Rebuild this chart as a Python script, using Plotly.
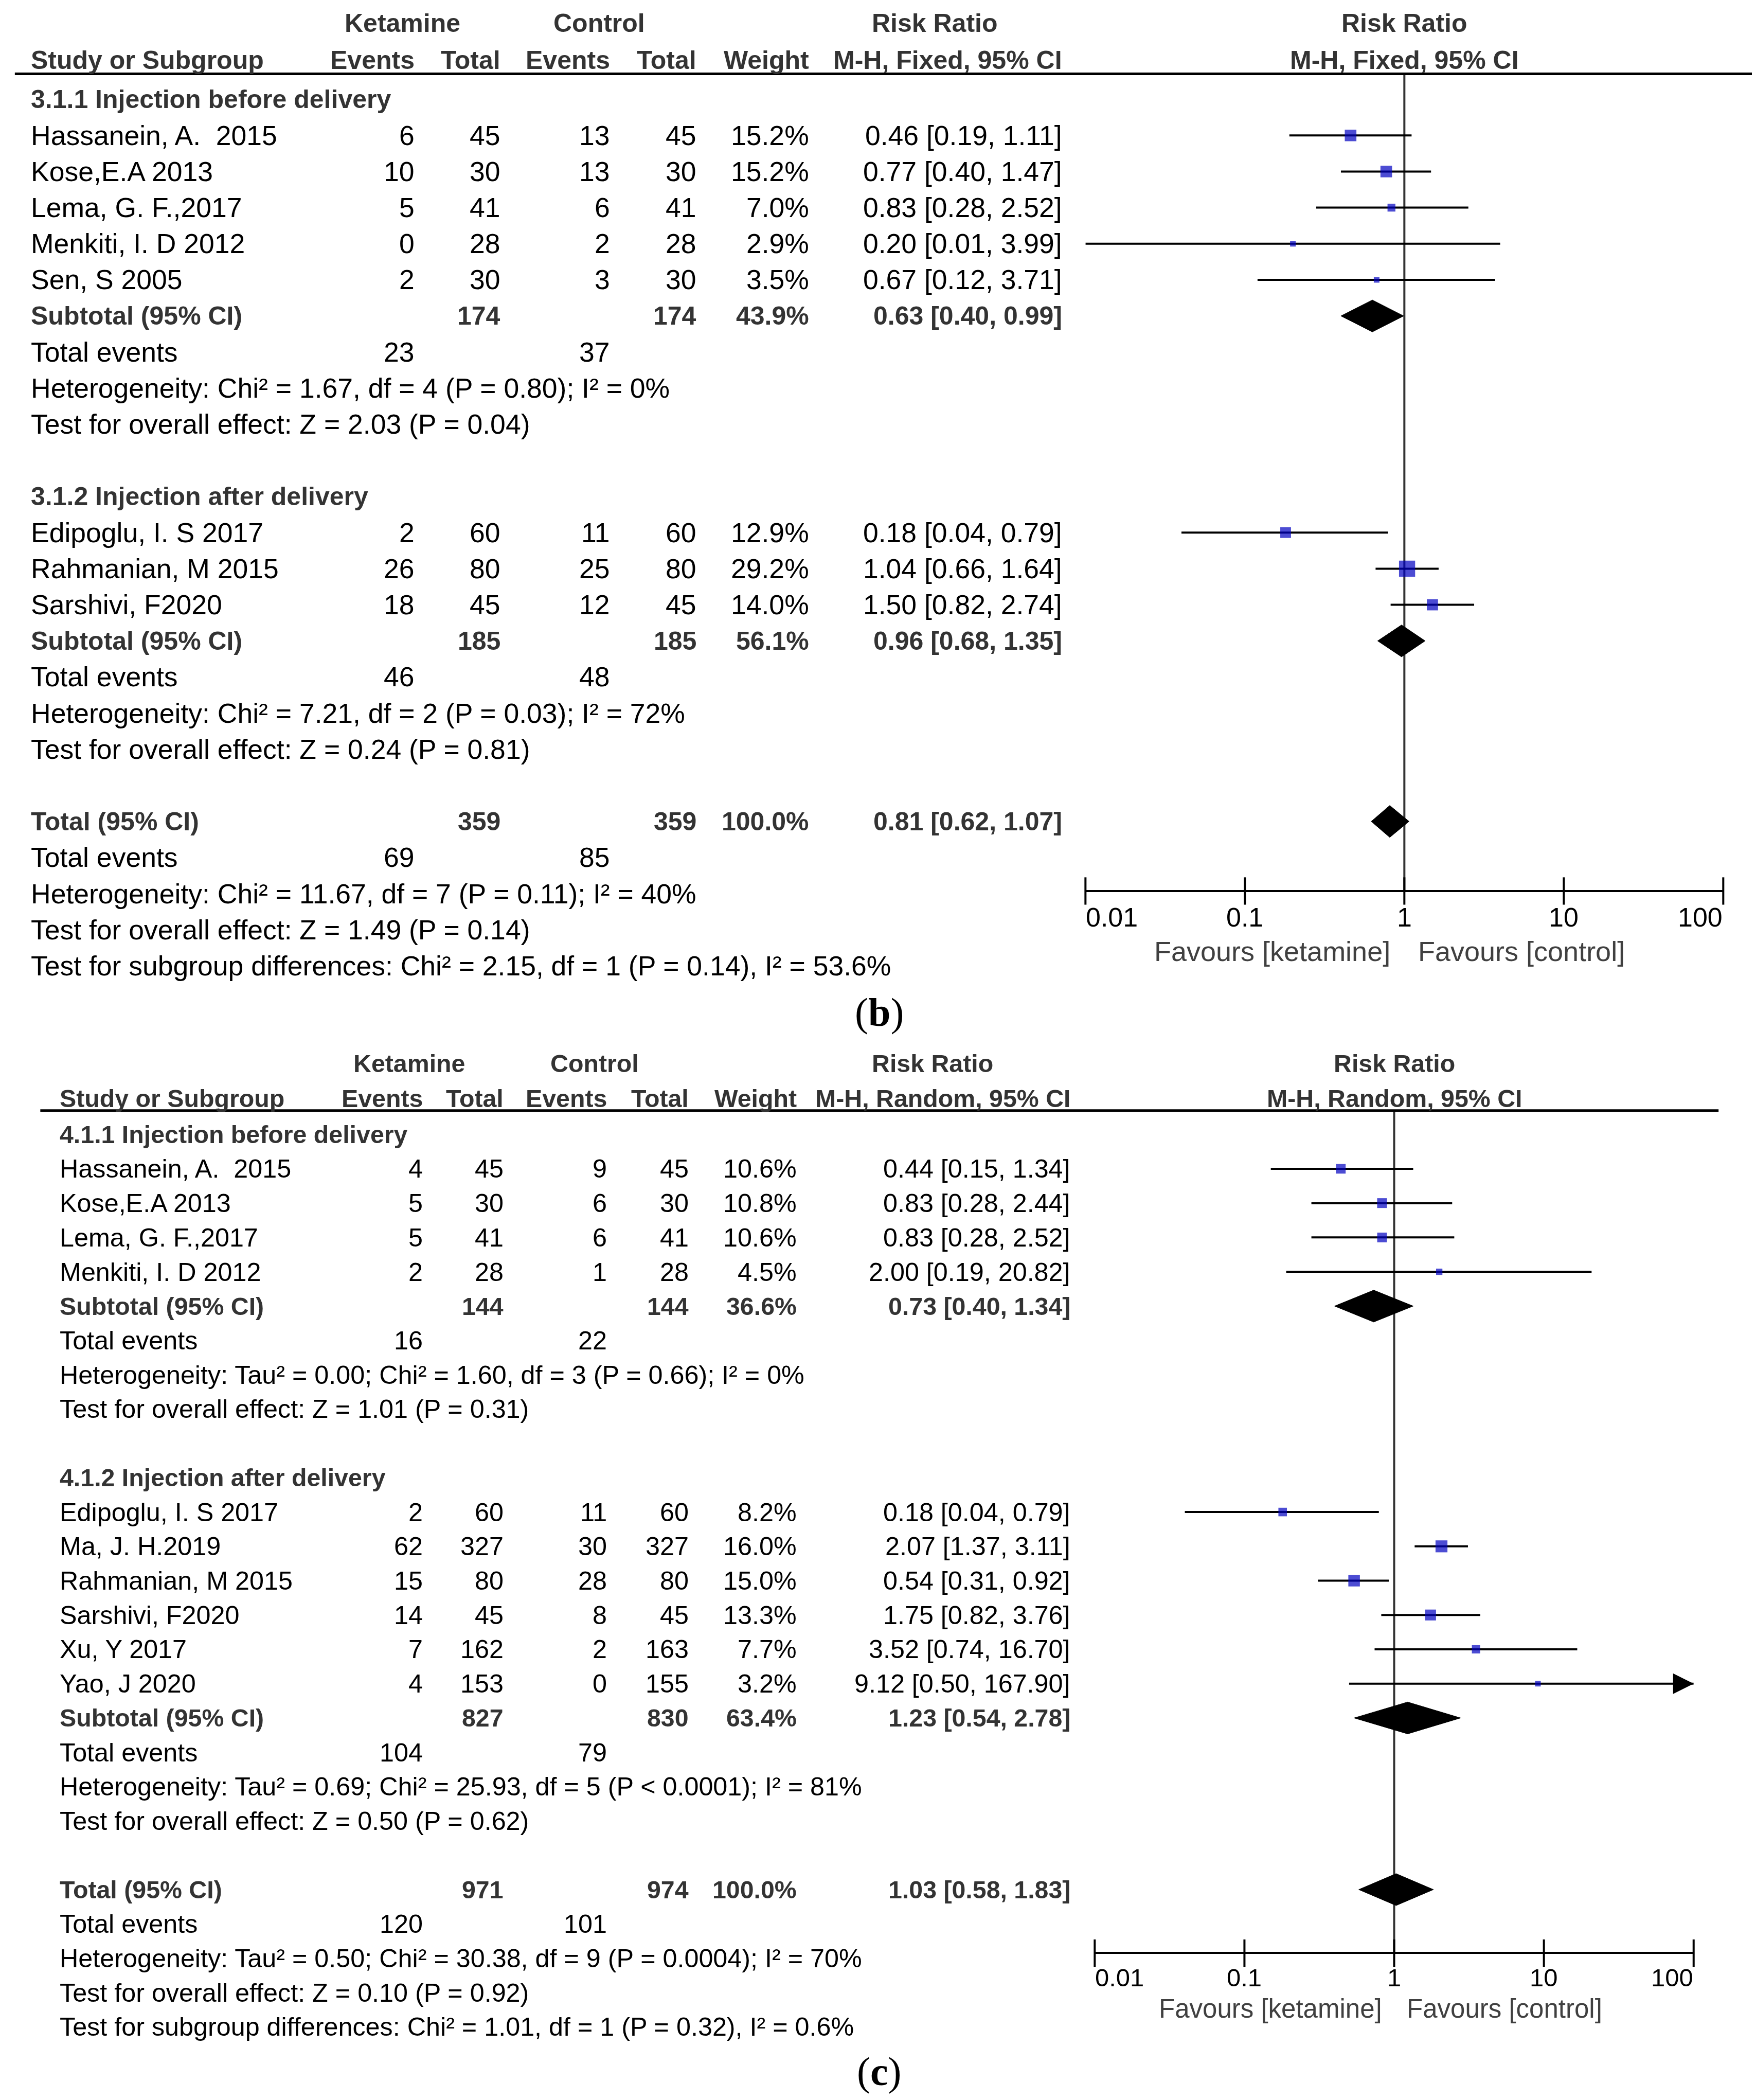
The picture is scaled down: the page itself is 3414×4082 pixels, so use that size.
import math
import plotly.graph_objects as go

# ======================= DATA: panel (b) =======================
B_MODEL = "M-H, Fixed, 95% CI"
B1_HEAD = "3.1.1 Injection before delivery"
B1_STUDY = ["Hassanein, A.  2015", "Kose,E.A 2013", "Lema, G. F.,2017", "Menkiti, I. D 2012", "Sen, S 2005"]
B1_EK = [6, 10, 5, 0, 2]
B1_TK = [45, 30, 41, 28, 30]
B1_EC = [13, 13, 6, 2, 3]
B1_TC = [45, 30, 41, 28, 30]
B1_W = [15.2, 15.2, 7.0, 2.9, 3.5]
B1_RR = [0.46, 0.77, 0.83, 0.20, 0.67]
B1_LO = [0.19, 0.40, 0.28, 0.01, 0.12]
B1_HI = [1.11, 1.47, 2.52, 3.99, 3.71]
B1_SUB_N = [174, 174]
B1_SUB_W = 43.9
B1_SUB_CI = [0.63, 0.40, 0.99]
B1_EVENTS = [23, 37]
B1_STATS = ["Heterogeneity: Chi² = 1.67, df = 4 (P = 0.80); I² = 0%",
            "Test for overall effect: Z = 2.03 (P = 0.04)"]

B2_HEAD = "3.1.2 Injection after delivery"
B2_STUDY = ["Edipoglu, I. S 2017", "Rahmanian, M 2015", "Sarshivi, F2020"]
B2_EK = [2, 26, 18]
B2_TK = [60, 80, 45]
B2_EC = [11, 25, 12]
B2_TC = [60, 80, 45]
B2_W = [12.9, 29.2, 14.0]
B2_RR = [0.18, 1.04, 1.50]
B2_LO = [0.04, 0.66, 0.82]
B2_HI = [0.79, 1.64, 2.74]
B2_SUB_N = [185, 185]
B2_SUB_W = 56.1
B2_SUB_CI = [0.96, 0.68, 1.35]
B2_EVENTS = [46, 48]
B2_STATS = ["Heterogeneity: Chi² = 7.21, df = 2 (P = 0.03); I² = 72%",
            "Test for overall effect: Z = 0.24 (P = 0.81)"]

BT_N = [359, 359]
BT_W = 100.0
BT_CI = [0.81, 0.62, 1.07]
BT_EVENTS = [69, 85]
BT_STATS = ["Heterogeneity: Chi² = 11.67, df = 7 (P = 0.11); I² = 40%",
            "Test for overall effect: Z = 1.49 (P = 0.14)",
            "Test for subgroup differences: Chi² = 2.15, df = 1 (P = 0.14), I² = 53.6%"]

# ======================= DATA: panel (c) =======================
C_MODEL = "M-H, Random, 95% CI"
C1_HEAD = "4.1.1 Injection before delivery"
C1_STUDY = ["Hassanein, A.  2015", "Kose,E.A 2013", "Lema, G. F.,2017", "Menkiti, I. D 2012"]
C1_EK = [4, 5, 5, 2]
C1_TK = [45, 30, 41, 28]
C1_EC = [9, 6, 6, 1]
C1_TC = [45, 30, 41, 28]
C1_W = [10.6, 10.8, 10.6, 4.5]
C1_RR = [0.44, 0.83, 0.83, 2.00]
C1_LO = [0.15, 0.28, 0.28, 0.19]
C1_HI = [1.34, 2.44, 2.52, 20.82]
C1_SUB_N = [144, 144]
C1_SUB_W = 36.6
C1_SUB_CI = [0.73, 0.40, 1.34]
C1_EVENTS = [16, 22]
C1_STATS = ["Heterogeneity: Tau² = 0.00; Chi² = 1.60, df = 3 (P = 0.66); I² = 0%",
            "Test for overall effect: Z = 1.01 (P = 0.31)"]

C2_HEAD = "4.1.2 Injection after delivery"
C2_STUDY = ["Edipoglu, I. S 2017", "Ma, J. H.2019", "Rahmanian, M 2015", "Sarshivi, F2020", "Xu, Y 2017", "Yao, J 2020"]
C2_EK = [2, 62, 15, 14, 7, 4]
C2_TK = [60, 327, 80, 45, 162, 153]
C2_EC = [11, 30, 28, 8, 2, 0]
C2_TC = [60, 327, 80, 45, 163, 155]
C2_W = [8.2, 16.0, 15.0, 13.3, 7.7, 3.2]
C2_RR = [0.18, 2.07, 0.54, 1.75, 3.52, 9.12]
C2_LO = [0.04, 1.37, 0.31, 0.82, 0.74, 0.50]
C2_HI = [0.79, 3.11, 0.92, 3.76, 16.70, 167.90]
C2_SUB_N = [827, 830]
C2_SUB_W = 63.4
C2_SUB_CI = [1.23, 0.54, 2.78]
C2_EVENTS = [104, 79]
C2_STATS = ["Heterogeneity: Tau² = 0.69; Chi² = 25.93, df = 5 (P < 0.0001); I² = 81%",
            "Test for overall effect: Z = 0.50 (P = 0.62)"]

CT_N = [971, 974]
CT_W = 100.0
CT_CI = [1.03, 0.58, 1.83]
CT_EVENTS = [120, 101]
CT_STATS = ["Heterogeneity: Tau² = 0.50; Chi² = 30.38, df = 9 (P = 0.0004); I² = 70%",
            "Test for overall effect: Z = 0.10 (P = 0.92)",
            "Test for subgroup differences: Chi² = 1.01, df = 1 (P = 0.32), I² = 0.6%"]

TICK_VALS = [0.01, 0.1, 1, 10, 100]
TICK_TEXT = ["0.01", "0.1", "1", "10", "100"]
FAV_LEFT = "Favours [ketamine]"
FAV_RIGHT = "Favours [control]"
COL_HEAD1 = ["Ketamine", "Control", "Risk Ratio"]
COL_HEAD2 = ["Study or Subgroup", "Events", "Total", "Events", "Total", "Weight"]
TOTAL_LABELS = ["Subtotal (95% CI)", "Total events", "Total (95% CI)"]


def group(head, study, ek, tk, ec, tc, w, rr, lo, hi, sub_n, sub_w, sub_ci, events, stats):
    return dict(head=head, study=study, ek=ek, tk=tk, ec=ec, tc=tc, w=w, rr=rr, lo=lo, hi=hi,
                sub_n=sub_n, sub_w=sub_w, sub_ci=sub_ci, events=events, stats=stats)


PANEL_B = dict(model=B_MODEL,
               groups=[group(B1_HEAD, B1_STUDY, B1_EK, B1_TK, B1_EC, B1_TC, B1_W, B1_RR, B1_LO, B1_HI,
                             B1_SUB_N, B1_SUB_W, B1_SUB_CI, B1_EVENTS, B1_STATS),
                       group(B2_HEAD, B2_STUDY, B2_EK, B2_TK, B2_EC, B2_TC, B2_W, B2_RR, B2_LO, B2_HI,
                             B2_SUB_N, B2_SUB_W, B2_SUB_CI, B2_EVENTS, B2_STATS)],
               total=dict(n=BT_N, w=BT_W, ci=BT_CI, events=BT_EVENTS, stats=BT_STATS))
PANEL_C = dict(model=C_MODEL,
               groups=[group(C1_HEAD, C1_STUDY, C1_EK, C1_TK, C1_EC, C1_TC, C1_W, C1_RR, C1_LO, C1_HI,
                             C1_SUB_N, C1_SUB_W, C1_SUB_CI, C1_EVENTS, C1_STATS),
                       group(C2_HEAD, C2_STUDY, C2_EK, C2_TK, C2_EC, C2_TC, C2_W, C2_RR, C2_LO, C2_HI,
                             C2_SUB_N, C2_SUB_W, C2_SUB_CI, C2_EVENTS, C2_STATS)],
               total=dict(n=CT_N, w=CT_W, ci=CT_CI, events=CT_EVENTS, stats=CT_STATS))

# ======================= LAYOUT (reference-pixel geometry) =======================
W, H = 3414, 4082
S = W / 1310.0
FONT = "Liberation Sans, Arial, sans-serif"
BLUE = "#0000C0"
GRAY = "#333333"


def px(xd):
    return xd / 1310.0


def py(yd):
    return 1 - yd * S / H


GEO_B = dict(row0=71.0, step=26.93, top=52.0, axis=661.5, bottom=734, xl=806.7, xr=1282.5,
             line=(8, 1305), head1=14.3, head2=41.8, study_x=19.5,
             cols=[306.5, 370.5, 452.5, 517, 601, 789.5],
             keta=297, ctrl=444, rr=694.5, ticklab=681, fav=706.6, label=752, labeltext="(<b>b</b>)",
             fs=53.5, fsh=50, fst=52, fsf=54, favshift=26)
GEO_C = dict(row0=843.1, step=25.6, top=825.3, axis=1453.7, bottom=1524, xl=813.6, xr=1260.4,
             line=(27, 1279), head1=790.2, head2=816.0, study_x=41.2,
             cols=[312.6, 373, 450, 511, 591.7, 796],
             keta=302, ctrl=440.6, rr=692.5, ticklab=1472, fav=1495.3, label=1541.8, labeltext="(<b>c</b>)",
             fs=50.3, fsh=48.3, fst=49, fsf=51, favshift=23)

fig = go.Figure()
annots = []
shapes = []


def txt(s, x, y, yref, anchor="left", bold=False, color="#000000", size=52, xref="paper",
        family=FONT, xshift=0):
    if bold:
        s = "<b>" + s + "</b>"
    annots.append(dict(text=s, x=x, y=y, xref=xref, yref=yref, xanchor=anchor, yanchor="middle",
                       showarrow=False, xshift=xshift, borderpad=0,
                       font=dict(size=size, color=color, family=family)))


def ci_text(rr, lo, hi):
    return f"{rr:.2f} [{lo:.2f}, {hi:.2f}]"


def build(panel, geo, xa, ya):
    xname = "xaxis" if xa == "x" else "xaxis" + xa[1:]
    yname = "yaxis" if ya == "y" else "yaxis" + ya[1:]
    step_px = geo["step"] * S
    r_top = (geo["top"] - geo["row0"]) / geo["step"]
    r_bot = (geo["bottom"] - geo["row0"]) / geo["step"]
    r_axis = (geo["axis"] - geo["row0"]) / geo["step"]
    c = geo["cols"]
    fs, fsh = geo["fs"], geo["fsh"]
    k = 5.8

    # --- column headers ---
    txt(COL_HEAD1[0], px(geo["keta"]), py(geo["head1"]), "paper", "center", True, GRAY, fsh)
    txt(COL_HEAD1[1], px(geo["ctrl"]), py(geo["head1"]), "paper", "center", True, GRAY, fsh)
    txt(COL_HEAD1[2], px(geo["rr"]), py(geo["head1"]), "paper", "center", True, GRAY, fsh)
    txt(COL_HEAD2[0], px(geo["study_x"]), py(geo["head2"]), "paper", "left", True, GRAY, fsh)
    for i, h in enumerate(COL_HEAD2[1:]):
        txt(h, px(c[i]), py(geo["head2"]), "paper", "right", True, GRAY, fsh)
    txt(panel["model"], px(c[5]), py(geo["head2"]), "paper", "right", True, GRAY, fsh)
    txt(COL_HEAD1[2], 0, py(geo["head1"]), "paper", "center", True, GRAY, fsh, xref=xa)
    txt(panel["model"], 0, py(geo["head2"]), "paper", "center", True, GRAY, fsh, xref=xa)
    shapes.append(dict(type="line", xref="paper", yref="paper", x0=px(geo["line"][0]), x1=px(geo["line"][1]),
                       y0=py(geo["top"]), y1=py(geo["top"]), line=dict(color="black", width=5)))

    sx, sy, ss = [], [], []
    lx, ly = [], []
    arrows_x, arrows_y = [], []
    diamonds = []
    r = 0
    sx0 = px(geo["study_x"])
    for g in panel["groups"]:
        txt(g["head"], sx0, r, ya, "left", True, GRAY, fsh)
        r += 1
        for i, name in enumerate(g["study"]):
            txt(name, sx0, r, ya, size=fs)
            txt(str(g["ek"][i]), px(c[0]), r, ya, "right", size=fs)
            txt(str(g["tk"][i]), px(c[1]), r, ya, "right", size=fs)
            txt(str(g["ec"][i]), px(c[2]), r, ya, "right", size=fs)
            txt(str(g["tc"][i]), px(c[3]), r, ya, "right", size=fs)
            txt(f"{g['w'][i]:.1f}%", px(c[4]), r, ya, "right", size=fs)
            txt(ci_text(g["rr"][i], g["lo"][i], g["hi"][i]), px(c[5]), r, ya, "right", size=fs)
            lo = max(g["lo"][i], TICK_VALS[0])
            hi = min(g["hi"][i], TICK_VALS[-1])
            lx += [lo, hi, None]
            ly += [r, r, None]
            if g["hi"][i] > TICK_VALS[-1]:
                arrows_x.append(TICK_VALS[-1])
                arrows_y.append(r)
            sx.append(g["rr"][i])
            sy.append(r)
            ss.append(max(11.0, k * math.sqrt(g["w"][i])))
            r += 1
        txt(TOTAL_LABELS[0], sx0, r, ya, "left", True, GRAY, fsh)
        txt(str(g["sub_n"][0]), px(c[1]), r, ya, "right", True, GRAY, fsh)
        txt(str(g["sub_n"][1]), px(c[3]), r, ya, "right", True, GRAY, fsh)
        txt(f"{g['sub_w']:.1f}%", px(c[4]), r, ya, "right", True, GRAY, fsh)
        txt(ci_text(*g["sub_ci"]), px(c[5]), r, ya, "right", True, GRAY, fsh)
        diamonds.append((g["sub_ci"], r))
        r += 1
        txt(TOTAL_LABELS[1], sx0, r, ya, size=fs)
        txt(str(g["events"][0]), px(c[0]), r, ya, "right", size=fs)
        txt(str(g["events"][1]), px(c[2]), r, ya, "right", size=fs)
        r += 1
        for s in g["stats"]:
            txt(s, sx0, r, ya, size=fs)
            r += 1
        r += 1
    t = panel["total"]
    txt(TOTAL_LABELS[2], sx0, r, ya, "left", True, GRAY, fsh)
    txt(str(t["n"][0]), px(c[1]), r, ya, "right", True, GRAY, fsh)
    txt(str(t["n"][1]), px(c[3]), r, ya, "right", True, GRAY, fsh)
    txt(f"{t['w']:.1f}%", px(c[4]), r, ya, "right", True, GRAY, fsh)
    txt(ci_text(*t["ci"]), px(c[5]), r, ya, "right", True, GRAY, fsh)
    diamonds.append((t["ci"], r))
    r += 1
    txt(TOTAL_LABELS[1], sx0, r, ya, size=fs)
    txt(str(t["events"][0]), px(c[0]), r, ya, "right", size=fs)
    txt(str(t["events"][1]), px(c[2]), r, ya, "right", size=fs)
    r += 1
    for s in t["stats"]:
        txt(s, sx0, r, ya, size=fs)
        r += 1

    # --- forest plot traces ---
    fig.add_trace(go.Scatter(x=[1, 1], y=[r_top, r_axis], mode="lines", xaxis=xa, yaxis=ya,
                             line=dict(color=GRAY, width=4), hoverinfo="skip", cliponaxis=False))
    fig.add_trace(go.Scatter(x=lx, y=ly, mode="lines", xaxis=xa, yaxis=ya,
                             line=dict(color="black", width=4), hoverinfo="skip"))
    if arrows_x:
        fig.add_trace(go.Scatter(x=arrows_x, y=arrows_y, mode="markers", xaxis=xa, yaxis=ya,
                                 marker=dict(symbol="arrow-right", size=40, color="black",
                                             line=dict(width=0)),
                                 hoverinfo="skip", cliponaxis=False))
    fig.add_trace(go.Scatter(x=sx, y=sy, mode="markers", xaxis=xa, yaxis=ya,
                             marker=dict(symbol="square", size=ss, color=BLUE, line=dict(width=0)),
                             hoverinfo="skip"))
    hh = 31.0 / step_px
    for (est, lo, hi), rr in diamonds:
        fig.add_trace(go.Scatter(x=[lo, est, hi, est, lo], y=[rr, rr - hh, rr, rr + hh, rr],
                                 mode="lines", fill="toself", fillcolor="black",
                                 line=dict(color="black", width=1), xaxis=xa, yaxis=ya,
                                 hoverinfo="skip"))
    # tick marks crossing the axis line
    fig.add_trace(go.Scatter(x=TICK_VALS, y=[r_axis] * len(TICK_VALS), mode="markers", xaxis=xa, yaxis=ya,
                             marker=dict(symbol="line-ns", size=38, line=dict(color="black", width=4)),
                             hoverinfo="skip", cliponaxis=False))
    # tick labels (end labels aligned inward, as in the reference)
    for i, (v, lab) in enumerate(zip(TICK_VALS, TICK_TEXT)):
        anchor = "left" if i == 0 else ("right" if i == len(TICK_VALS) - 1 else "center")
        txt(lab, math.log10(v), py(geo["ticklab"]), "paper", anchor, False, "#000000", geo["fst"], xref=xa)

    txt(FAV_LEFT, 0, py(geo["fav"]), "paper", "right", False, "#404040", geo["fsf"], xref=xa,
        xshift=-geo["favshift"])
    txt(FAV_RIGHT, 0, py(geo["fav"]), "paper", "left", False, "#404040", geo["fsf"], xref=xa,
        xshift=geo["favshift"])
    txt(geo["labeltext"], 0.4985, py(geo["label"]), "paper", "center", False, "#000000", 78,
        family="Liberation Serif, Times New Roman, serif")

    fig.update_layout(**{
        xname: dict(type="log", range=[-2, 2], domain=[px(geo["xl"]), px(geo["xr"])], anchor="free",
                    position=py(geo["axis"]), showline=True, linewidth=4, linecolor="black",
                    showgrid=False, zeroline=False, ticks="", showticklabels=False,
                    automargin=False, fixedrange=True),
        yname: dict(range=[r_bot, r_top], domain=[py(geo["bottom"]), py(geo["top"])], visible=False,
                    anchor=xa, automargin=False, fixedrange=True),
    })


build(PANEL_B, GEO_B, "x", "y")
build(PANEL_C, GEO_C, "x2", "y2")

fig.update_layout(width=W, height=H, margin=dict(l=0, r=0, t=0, b=0, autoexpand=False),
                  paper_bgcolor="white", plot_bgcolor="rgba(0,0,0,0)", showlegend=False,
                  annotations=annots, shapes=shapes,
                  font=dict(family=FONT, size=52, color="black"))

fig.write_html("out.html", config={"displayModeBar": False})
